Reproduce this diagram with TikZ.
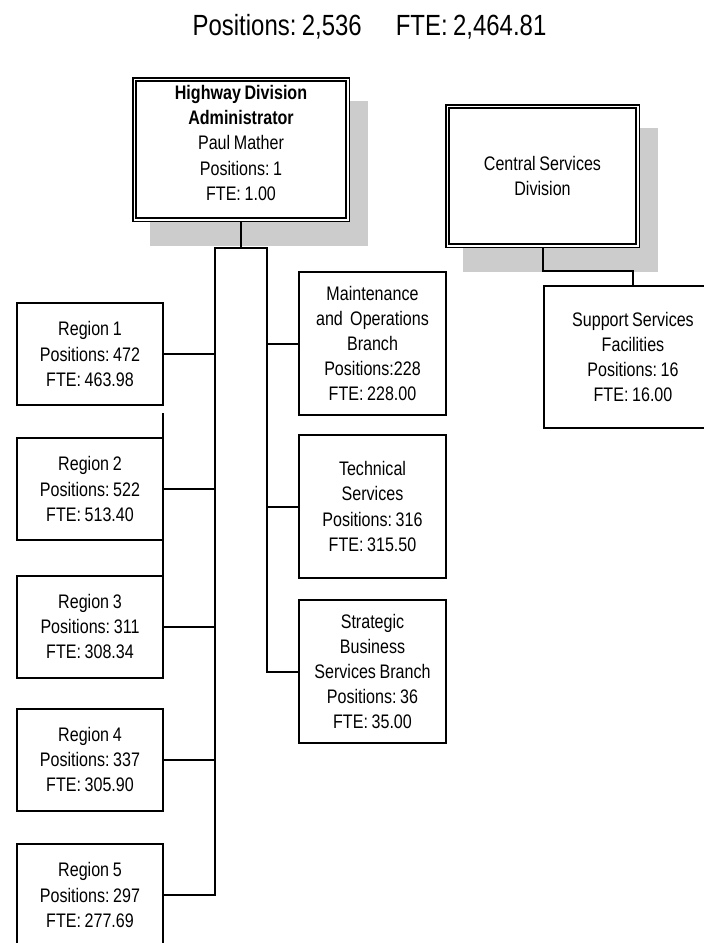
\documentclass[tikz,border=0pt]{standalone}
\usepackage{fontspec}
\setmainfont[FakeStretch=0.82,WordSpace=0.82]{Liberation Sans}
\usetikzlibrary{backgrounds}
\definecolor{shadowgray}{RGB}{204,204,204}
\newcommand\boxfont{\fontsize{19.6pt}{25.2pt}\selectfont\frenchspacing}
\newcommand\hdrfont{\fontsize{29.2pt}{34pt}\selectfont\frenchspacing}

\begin{document}
\begin{tikzpicture}[x=1pt,y=-1pt,
  conn/.style={draw=black, line width=2pt},
  orgbox/.style={draw=black, line width=2pt, fill=white, inner sep=0pt,
    outer sep=0pt, align=center, font=\boxfont},
  regionbox/.style={orgbox, minimum width=146pt, minimum height=102pt},
  branchbox/.style={orgbox, minimum width=147pt, minimum height=143pt},
  headbox/.style={draw=black, line width=1.5pt, double=white,
    double distance=1.8pt, fill=white, inner sep=0pt, outer sep=2.4pt,
    align=center, font=\boxfont},
  boxtext/.style={align=center, font=\boxfont, inner sep=0pt},
]
\useasboundingbox (0,0) rectangle (704,943);
\clip (0,0) rectangle (704,943);

% headline totals
\node[anchor=base, font=\hdrfont, inner sep=0pt] (totals) at (369.5,35)
  {Positions: 2,536\hspace{34pt}FTE: 2,464.81};

% division heads (double border, grey drop shadow)
\node[headbox, minimum width=213.2pt, minimum height=140.2pt] (admin) at (241,149.5) {};
\node[boxtext] (admintxt) at (241,142.9)
  {\textbf{Highway Division}\\\textbf{Administrator}\\Paul Mather\\Positions: 1\\FTE: 1.00};
\node[headbox, minimum width=190.2pt, minimum height=139.2pt] (cs) at (542.5,176)
  {Central Services\\Division};

% regions
\node[regionbox] (r1) at (90,354)   {Region 1\\Positions: 472\\FTE: 463.98};
\node[regionbox] (r2) at (90,489)   {Region 2\\Positions: 522\\FTE: 513.40};
\node[regionbox] (r3) at (90,626.5) {Region 3\\Positions: 311\\FTE: 308.34};
\node[regionbox] (r4) at (90,759.5) {Region 4\\Positions: 337\\FTE: 305.90};
\node[regionbox] (r5) at (90,895)   {Region 5\\Positions: 297\\FTE: 277.69};

% branches
\node[branchbox] (mob)  at (372.5,343.5) {Maintenance\\and\ \ Operations\\Branch\\Positions:228\\FTE: 228.00};
\node[branchbox] (tech) at (372.5,506.5) {Technical\\Services\\Positions: 316\\FTE: 315.50};
\node[branchbox] (sbs)  at (372.5,671.5) {Strategic\\Business\\Services Branch\\Positions: 36\\FTE: 35.00};

% support unit under central services
\node[orgbox, minimum width=178pt, minimum height=142pt] (sup) at (633,357)
  {Support Services\\Facilities\\Positions: 16\\FTE: 16.00};

% shadows behind the head boxes
\begin{scope}[on background layer]
  \fill[shadowgray] ([shift={(18,24)}]admin.north west) rectangle ([shift={(18,24)}]admin.south east);
  \fill[shadowgray] ([shift={(18,24)}]cs.north west) rectangle ([shift={(18,24)}]cs.south east);
\end{scope}

% bus junctions
\coordinate (jm) at (241,248);
\coordinate (jl) at (215,248);
\coordinate (jr) at (267,248);
\coordinate (csj) at (542.5,270.5);

% connectors
\draw[conn] (admin.south) -- (jm);
\draw[conn] (r5.east) -| (jl) -- (jr) |- (sbs.west);
\draw[conn] (r1.east) -- (r1.east -| jl);
\draw[conn] (r2.east) -- (r2.east -| jl);
\draw[conn] (r3.east) -- (r3.east -| jl);
\draw[conn] (r4.east) -- (r4.east -| jl);
\draw[conn] (mob.west) -- (mob.west -| jr);
\draw[conn] (tech.west) -- (tech.west -| jr);
\draw[conn] ([yshift=-8pt]r1.south east) -- (r3.north east);
\draw[conn] (cs.south) -- (csj) -| (sup.north);
\end{tikzpicture}
\end{document}
